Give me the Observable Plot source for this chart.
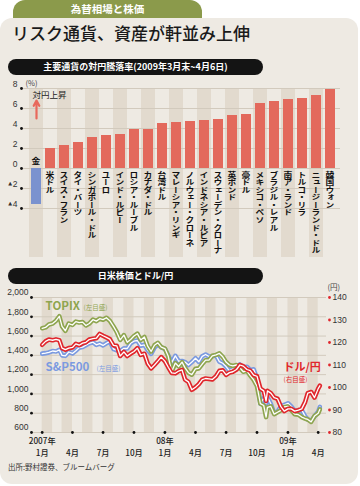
<!DOCTYPE html>
<html><head><meta charset="utf-8">
<script src="https://cdn.jsdelivr.net/npm/d3@7"></script>
<script src="https://cdn.jsdelivr.net/npm/@observablehq/plot@0.6"></script>
<style>
html,body{margin:0;padding:0;background:#fff;}
body{width:360px;height:486px;position:relative;overflow:hidden;font-family:"Noto Sans CJK JP","Noto Sans",sans-serif;}
.tab{position:absolute;left:13px;top:0;width:189px;height:26px;background:#8b9a4b;border-radius:12px 12px 0 0;}
.tabtxt{position:absolute;left:13px;top:0;width:189px;height:18px;line-height:18px;text-align:center;color:#fff;font-weight:700;font-size:10.5px;z-index:2}
.panel{position:absolute;left:0;top:18px;width:358px;height:466px;background:#eeeae3;border-radius:12px;}
.title{position:absolute;left:12px;top:22px;font-size:17px;line-height:22px;color:#1a1a1a;font-weight:500;}
.hdr{position:absolute;left:8px;width:255px;height:16px;background:#141414;border-radius:8px;color:#fff;font-size:9px;font-weight:700;text-align:center;line-height:16px;z-index:2}
.chart{position:absolute;left:0;z-index:1}
.src{position:absolute;left:8px;top:461px;font-size:7.5px;color:#333;z-index:2}
</style></head>
<body>
<div class="tab"></div><div class="tabtxt">為替相場と株価</div>
<div class="panel"></div>
<div class="title">リスク通貨、資産が軒並み上伸</div>
<div class="hdr" style="top:59px">主要通貨の対円騰落率(2009年3月末~4月6日)</div>
<div id="bar" class="chart" style="top:78px"></div>
<div class="hdr" style="top:268px">日米株価とドル/円</div>
<div id="line" class="chart" style="top:286px"></div>
<div class="src">出所:野村證券、ブルームバーグ</div>
<script>
// ---------- data: bar chart ----------
const currencies = ["金","米ドル","スイス・フラン","タイ・バーツ","シンガポール・ドル","ユーロ","インド・ルピー","ロシア・ルーブル","カナダ・ドル","台湾ドル","マレーシア・リンギ","ノルウェー・クローネ","インドネシア・ルピア","スウェーデン・クローナ","英ポンド","豪ドル","メキシコ・ペソ","ブラジル・レアル","南ア・ランド","トルコ・リラ","ニュージーランド・ドル","韓国ウォン"];
const changes = [-3.6, 2.0, 2.3, 2.6, 3.1, 3.3, 3.4, 3.9, 3.9, 4.5, 4.6, 4.7, 4.8, 4.9, 5.3, 5.4, 6.5, 6.7, 6.9, 7.0, 7.3, 7.9];
const barTicks = [8, 6, 4, 2, 0, -2, -4];
const barTickLabels = ["8", "6", "4", "2", "0", "2", "4"];

// ---------- data: line chart ----------
const dates = [
"2007-01-01","2007-01-11","2007-01-21","2007-02-01","2007-02-11","2007-02-21","2007-03-01","2007-03-11","2007-03-21",
"2007-04-01","2007-04-11","2007-04-21","2007-05-01","2007-05-11","2007-05-21","2007-06-01","2007-06-11","2007-06-21",
"2007-07-01","2007-07-11","2007-07-21","2007-08-01","2007-08-11","2007-08-21","2007-09-01","2007-09-11","2007-09-21",
"2007-10-01","2007-10-11","2007-10-21","2007-11-01","2007-11-11","2007-11-21","2007-12-01","2007-12-11","2007-12-21",
"2008-01-01","2008-01-11","2008-01-21","2008-02-01","2008-02-11","2008-02-21","2008-03-01","2008-03-11","2008-03-21",
"2008-04-01","2008-04-11","2008-04-21","2008-05-01","2008-05-11","2008-05-21","2008-06-01","2008-06-11","2008-06-21",
"2008-07-01","2008-07-11","2008-07-21","2008-08-01","2008-08-11","2008-08-21","2008-09-01","2008-09-11","2008-09-21",
"2008-10-01","2008-10-11","2008-10-21","2008-10-28","2008-11-01","2008-11-11","2008-11-21","2008-12-01","2008-12-11","2008-12-21",
"2009-01-01","2009-01-11","2009-01-21","2009-02-01","2009-02-11","2009-02-21","2009-03-01","2009-03-11","2009-03-21",
"2009-04-01","2009-04-06"];
const topix = [
1681,1690,1720, 1730,1760,1805, 1700,1655,1730,
1715,1750,1740, 1745,1710,1730, 1770,1755,1780,
1770,1790,1760, 1700,1640,1560, 1610,1535,1565,
1600,1625,1560, 1590,1495,1440, 1505,1530,1485,
1470,1390,1230, 1320,1285,1330, 1270,1220,1200,
1260,1265,1310, 1350,1350,1395, 1405,1420,1385,
1330,1300,1290, 1300,1270,1230, 1240,1190,1145,
1080,900,880,760, 860,870,790, 810,830,865,
870,830,790, 785,760,745, 735,710,770,
800,840];
const sp500 = [
1418,1423,1430, 1445,1440,1457, 1400,1395,1435,
1420,1448,1480, 1486,1505,1525, 1536,1509,1522,
1503,1525,1545, 1465,1453,1445, 1473,1471,1525,
1547,1554,1500, 1509,1453,1416, 1481,1515,1484,
1468,1401,1325, 1395,1339,1342, 1330,1300,1330,
1370,1333,1390, 1409,1388,1390, 1400,1335,1318,
1284,1240,1260, 1260,1305,1277, 1282,1249,1255,
1161,899,955,900, 968,898,800, 816,873,887,
903,870,827, 825,833,770, 735,720,768,
815,865];
const usdjpy = [
119.0,120.5,121.3, 121.0,121.4,121.0, 117.5,116.8,117.5,
117.8,119.4,118.8, 119.7,120.1,121.3, 121.7,121.9,123.8,
123.0,122.3,121.5, 118.7,118.5,114.0, 115.8,114.0,115.1,
116.0,117.5,114.5, 115.0,110.6,108.5, 110.0,111.7,113.5,
111.7,109.0,106.5, 106.3,107.3,107.8, 103.5,102.5,99.0,
100.1,101.5,103.5, 104.0,103.8,103.6, 105.0,107.4,107.6,
105.6,106.6,107.0, 108.0,110.0,109.5, 108.0,107.5,105.5,
105.0,99.5,98.5,94.0, 98.5,97.5,95.5, 95.0,91.5,89.5,
90.5,90.5,89.5, 89.9,90.5,93.5, 97.5,98.0,95.5,
99.5,100.8];
const leftTicks = [600, 800, 1000, 1200, 1400, 1600, 1800, 2000];
const leftTickLabels = ["600", "800", "1,000", "1,200", "1,400", "1,600", "1,800", "2,000"];
const rightTicks = [80, 90, 100, 110, 120, 130, 140];
const quarterTicks = ["2007-01-01","2007-04-01","2007-07-01","2007-10-01","2008-01-01","2008-04-01","2008-07-01","2008-10-01","2009-01-01","2009-04-01"];
const monthLabels = ["1月","4月","7月","10月","1月","4月","7月","10月","1月","4月"];
const yearTicks = ["2007-01-01","2008-01-01","2009-01-01"];
const yearLabels = ["2007年","08年","09年"];

const FONT = "'Noto Sans CJK JP','Noto Sans',sans-serif";
const STRIPE = "#e2dace", GRID = "#d2cabd";

// ---------- bar chart ----------
const barData = currencies.map((c, i) => ({c, v: changes[i], i}));
const bar = Plot.plot({
  width: 360, height: 184, marginTop: 10, marginBottom: 5, marginLeft: 22, marginRight: 20,
  style: {background: "transparent", fontFamily: FONT, overflow: "visible"},
  x: {type: "band", domain: currencies, range: [29, 337], padding: 0, axis: null},
  y: {domain: [-8.9, 8], axis: null},
  marks: [
    Plot.barY(barData.filter(d => d.i % 2 === 0), {x: "c", y1: -8.9, y2: 8, fill: STRIPE}),
    Plot.ruleY(barTicks, {stroke: GRID, strokeWidth: 1}),
    Plot.barY(barData.filter(d => d.v >= 0), {x: "c", y: "v", fill: "#e3695c", insetLeft: 2, insetRight: 2}),
    Plot.barY(barData.filter(d => d.v < 0), {x: "c", y: "v", fill: "#7a92cf", insetLeft: 2, insetRight: 2}),
    Plot.dot(barTicks, {y: d => d, frameAnchor: "left", dx: -1, r: 1.4, fill: "#111"}),
    Plot.text(barTicks, {y: d => d, text: (d, i) => barTickLabels[i], frameAnchor: "left", dx: -5, dy: -4.5, textAnchor: "end", fontSize: 8.5, fill: "#333", fontFamily: "'Liberation Sans',sans-serif"}),
    Plot.text(barTicks.filter(d => d < 0), {y: d => d, text: () => "▲", frameAnchor: "left", dx: -10.5, dy: -5, textAnchor: "end", fontSize: 5, fill: "#333", fontFamily: "'DejaVu Sans',sans-serif"}),
    Plot.text([8], {y: d => d, text: () => "(%)", frameAnchor: "left", dx: 3, dy: -5, textAnchor: "start", fontSize: 7.5, fill: "#444"}),
    Plot.text([{c: "金", v: 7.3}], {x: "c", y: "v", text: () => "対円上昇", dx: -4, textAnchor: "start", fontSize: 8.5, fill: "#222"}),
    Plot.arrow([{c: "金", a: 5.0, b: 6.8}], {x1: "c", x2: "c", y1: "a", y2: "b", stroke: "#e8695c", strokeWidth: 2.2, headLength: 6, headAngle: 55})
  ]
});
document.getElementById("bar").appendChild(bar);
{
  const sx = bar.scale("x"), sy = bar.scale("y");
  const r0 = Math.min(...sx.range);
  const off = Math.abs(sx.apply(currencies[0]) - r0) < 0.5 ? sx.bandwidth / 2 : 0;
  const g = d3.select(bar).append("g").attr("font-size", 8.8).attr("font-weight", 700).attr("fill", "#111").attr("font-family", FONT);
  currencies.forEach((c, i) => {
    const neg = changes[i] < 0;
    const x = sx.apply(c) + off, y = sy.apply(0) + (neg ? -3 : 3);
    g.append("text")
      .attr("transform", `translate(${x},${y}) scale(1,0.86)`)
      .attr("text-anchor", neg ? "end" : "start")
      .attr("style", "writing-mode: vertical-rl;")
      .text(c);
  });
}

// ---------- line chart ----------
const toLeft = v => 600 + (v - 80) * 1400 / 60;
const series = dates.map((d, i) => ({date: new Date(d), topix: topix[i], sp: sp500[i], usd: toLeft(usdjpy[i])}));
const start = new Date("2007-01-01"), end = new Date("2009-04-01");
const stripes = d3.utcMonth.range(start, end, 2);
const GREEN = "#8ea54f", BLUE = "#7b9ae0", RED = "#e0262c";
const dbl = (key, color) => [
  Plot.line(series, {x: "date", y: key, stroke: color, strokeWidth: 4.6, strokeLinejoin: "round"}),
  Plot.line(series, {x: "date", y: key, stroke: "#fff", strokeWidth: 1.3, strokeLinejoin: "round"})
];
const xLabels = quarterTicks.map((d, i) => {
  const k = yearTicks.indexOf(d);
  return {date: new Date(d), label: (k >= 0 ? yearLabels[k] + "\n" : "") + monthLabels[i]};
});
const line = Plot.plot({
  width: 360, height: 172, marginTop: 11, marginBottom: 26, marginLeft: 31, marginRight: 34,
  style: {background: "transparent", fontFamily: FONT, overflow: "visible"},
  x: {type: "utc", domain: [start, end], range: [41.7, 317.7], axis: null},
  y: {domain: [600, 2000], axis: null},
  marks: [
    Plot.rect(stripes, {x1: d => d, x2: d => d3.utcMonth.offset(d, 1), y1: 600, y2: 2000, fill: STRIPE}),
    Plot.ruleY(leftTicks, {stroke: GRID, strokeWidth: 1}),
    ...dbl("sp", BLUE),
    ...dbl("topix", GREEN),
    ...dbl("usd", RED),
    Plot.dot(leftTicks, {y: d => d, frameAnchor: "left", r: 1.4, fill: "#111"}),
    Plot.text(leftTicks, {y: d => d, text: (d, i) => leftTickLabels[i], frameAnchor: "left", dx: -3, dy: -5, textAnchor: "end", fontSize: 8.5, fill: "#333", fontFamily: "'Liberation Sans',sans-serif"}),
    Plot.dot(rightTicks, {y: toLeft, frameAnchor: "right", dx: 3, r: 1.4, fill: RED}),
    Plot.text(rightTicks, {y: toLeft, text: d => String(d), frameAnchor: "right", dx: 6, textAnchor: "start", fontSize: 8.5, fill: "#333", fontFamily: "'Liberation Sans',sans-serif"}),
    Plot.text([140], {y: toLeft, text: () => "(円)", frameAnchor: "right", dx: 1, dy: -10, textAnchor: "start", fontSize: 7.5, fill: "#444"}),
    Plot.dot(quarterTicks, {x: d => new Date(d), frameAnchor: "bottom", r: 1.4, fill: "#111"}),
    Plot.text(xLabels, {x: "date", text: "label", frameAnchor: "bottom", lineAnchor: "bottom", lineHeight: 1.42, dy: 23, fontSize: 8.2, fontWeight: 500, fill: "#222"}),
    Plot.text([{d: new Date("2007-01-11"), v: 1905}], {x: "d", y: "v", text: () => "TOPIX", textAnchor: "start", fontSize: 11.5, fontWeight: 700, fill: GREEN}),
    Plot.text([{d: new Date("2007-01-11"), v: 1890}], {x: "d", y: "v", text: () => "(左目盛)", dx: 38, textAnchor: "start", fontSize: 6.5, fill: GREEN}),
    Plot.text([{d: new Date("2007-01-11"), v: 1274}], {x: "d", y: "v", text: () => "S&P500", textAnchor: "start", fontSize: 11.5, fontWeight: 700, fill: BLUE}),
    Plot.text([{d: new Date("2007-01-11"), v: 1260}], {x: "d", y: "v", text: () => "(左目盛)", dx: 51, textAnchor: "start", fontSize: 6.5, fill: BLUE}),
    Plot.text([{d: new Date("2008-12-19"), v: 1274}], {x: "d", y: "v", text: () => "ドル/円", textAnchor: "start", fontSize: 11, fontWeight: 700, fill: RED}),
    Plot.text([{d: new Date("2008-12-19"), v: 1141}], {x: "d", y: "v", text: () => "(右目盛)", textAnchor: "start", fontSize: 6.5, fill: RED})
  ]
});
document.getElementById("line").appendChild(line);
</script>
</body></html>
